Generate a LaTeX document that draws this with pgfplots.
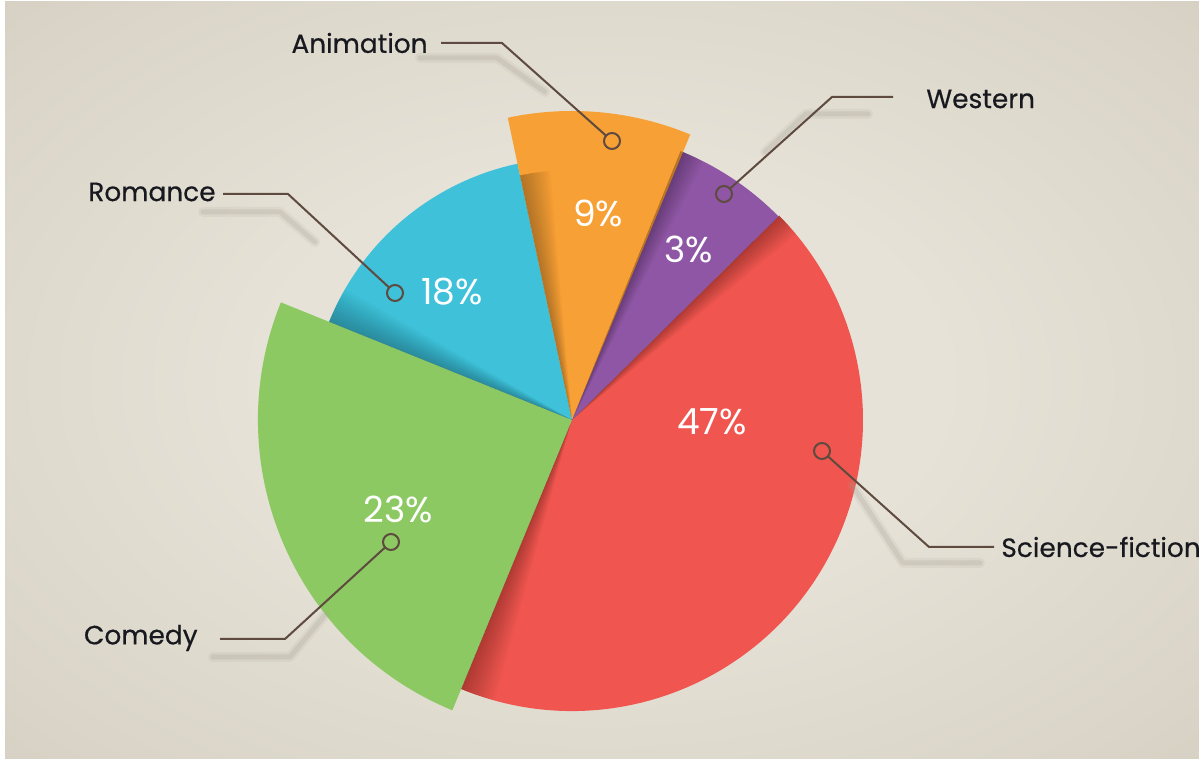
\documentclass[border=0pt]{standalone}
\usepackage{pgfplots}
\pgfplotsset{compat=1.18}
\usepackage{fontspec}
\setmainfont{Poppins}
\newfontfamily\labfont{Poppins}[FakeBold=0.45]
\usetikzlibrary{shadows.blur}

\definecolor{bgin}{HTML}{E6E2D7}
\definecolor{bgmid}{HTML}{DAD5C8}
\definecolor{bgout}{HTML}{CBC4B6}
\definecolor{bgcorner}{HTML}{BEB6A7}
\definecolor{scifi}{HTML}{F0564F}
\definecolor{western}{HTML}{8E56A4}
\definecolor{anim}{HTML}{F7A035}
\definecolor{romance}{HTML}{3EC1D9}
\definecolor{comedy}{HTML}{8CC963}
\definecolor{leader}{HTML}{5E4A3F}
\definecolor{labeltext}{HTML}{18181F}
\definecolor{lshadow}{HTML}{A39C8F}

\pgfdeclareradialshading{bgshade}{\pgfpoint{0bp}{0bp}}{%
  color(0bp)=(bgin); color(10bp)=(bgin); color(22bp)=(bgmid);
  color(35bp)=(bgout); color(50bp)=(bgcorner)}

% one slice: colour, start angle, end angle, radius (px)
\newcommand{\slice}[4]{%
  \fill[#1] (axis cs:572,344) -- ++(#2:{#4*0.5pt})
    arc[start angle=#2, end angle=#3, radius={#4*0.5pt}] -- cycle;}
% soft shadow inside a slice along one edge: edge angle, signed width, radius
\newcommand{\edgeshade}[3]{%
  \foreach \k in {1,...,14}{%
    \fill[black, opacity=0.018] (axis cs:572,344) -- ++(#1:{#3*0.5pt})
      arc[start angle=#1, end angle={#1+#2*\k/14}, radius={#3*0.5pt}] -- cycle;}}

\begin{document}
\begin{tikzpicture}
\begin{axis}[
  width=599.5pt, height=382pt, scale only axis,
  xmin=0, xmax=1199, ymin=0, ymax=764,
  enlargelimits=false, hide axis, clip=false,
  nodes near coords align={center},
  point meta=explicit symbolic,
]
\pgfplotsextra{%
  \fill[white] (axis cs:0,0) rectangle (axis cs:1199,764);
  \begin{scope}
    \clip (axis cs:5,5) rectangle (axis cs:1199,762);
    \shade[shading=bgshade] (axis cs:602,383) ellipse [x radius=424pt, y radius=270pt];
  \end{scope}
  % slices, back to front
  \begin{scope}[blur shadow={shadow xshift=0pt, shadow yshift=-3pt,
      shadow blur radius=7pt, shadow blur steps=10, shadow opacity=22}]
    \slice{scifi}{247.6}{404.6}{291}
    \slice{western}{44.6}{68.0}{290}
    \slice{romance}{102.0}{158.0}{262}
    \slice{anim}{67.5}{102.0}{309}
    \slice{comedy}{158.0}{247.6}{314}
  \end{scope}
  \edgeshade{247.6}{7}{291}
  \edgeshade{44.6}{-5}{291}
  \edgeshade{68.0}{-5}{290}
  \edgeshade{102.0}{-7}{250}
  \edgeshade{158.0}{-8}{262}
  % leader shadows
  \foreach \w/\o in {5pt/0.12, 2.5pt/0.22}{%
    \draw[lshadow, line width=\w, opacity=\o, line cap=round, line join=round]
      (axis cs:420,706) -- (axis cs:497,706) -- (axis cs:545,672);
    \draw[lshadow, line width=\w, opacity=\o, line cap=round, line join=round]
      (axis cs:868,650) -- (axis cs:806,650) -- (axis cs:765,612);
    \draw[lshadow, line width=\w, opacity=\o, line cap=round, line join=round]
      (axis cs:203,552) -- (axis cs:280,552) -- (axis cs:315,522);
    \draw[lshadow, line width=\w, opacity=\o, line cap=round, line join=round]
      (axis cs:213,107) -- (axis cs:290,107) -- (axis cs:325,149);
    \draw[lshadow, line width=\w, opacity=\o, line cap=round, line join=round]
      (axis cs:980,201) -- (axis cs:903,201) -- (axis cs:852,279);
  }
}
% leader lines
\addplot[leader, line width=1pt, mark=none] coordinates {(441,721) (502,721) (612,623)};
\addplot[leader, line width=1pt, mark=none] coordinates {(893,667) (832,667) (724,570)};
\addplot[leader, line width=1pt, mark=none] coordinates {(223,570) (288,570) (395,471)};
\addplot[leader, line width=1pt, mark=none] coordinates {(220,125) (285,125) (391,222)};
\addplot[leader, line width=1pt, mark=none] coordinates {(994,217) (929,217) (822,313)};
% leader end circles
\addplot[only marks, mark=*, mark size=4pt, mark options={draw=leader, line width=1pt, fill=anim}] coordinates {(612,623)};
\addplot[only marks, mark=*, mark size=4pt, mark options={draw=leader, line width=1pt, fill=western}] coordinates {(724,570)};
\addplot[only marks, mark=*, mark size=4pt, mark options={draw=leader, line width=1pt, fill=romance}] coordinates {(395,471)};
\addplot[only marks, mark=*, mark size=4pt, mark options={draw=leader, line width=1pt, fill=comedy}] coordinates {(391,222)};
\addplot[only marks, mark=*, mark size=4pt, mark options={draw=leader, line width=1pt, fill=scifi}] coordinates {(822,313)};
% percentages
\addplot[only marks, mark=none, nodes near coords,
  every node near coord/.append style={font=\fontsize{18}{20}\selectfont, text=white, anchor=center}]
  coordinates {(598,551)[9\%] (689,515)[3\%] (452,472)[18\%] (712,342)[47\%] (398,255)[23\%]};
% category names, right-aligned
\addplot[only marks, mark=none, nodes near coords,
  every node near coord/.append style={font=\labfont\fontsize{13.2}{15}\selectfont, text=labeltext, anchor=east, inner sep=0pt}]
  coordinates {(428,721)[Animation] (216,572)[Romance] (198,126)[Comedy]};
% category names, left-aligned
\addplot[only marks, mark=none, nodes near coords,
  every node near coord/.append style={font=\labfont\fontsize{13.2}{15}\selectfont, text=labeltext, anchor=west, inner sep=0pt}]
  coordinates {(926,665)[Western] (1001,217)[Science-fiction]};
\end{axis}
\pgfresetboundingbox
\path (current axis.south west) rectangle (current axis.north east);
\end{tikzpicture}
\end{document}
